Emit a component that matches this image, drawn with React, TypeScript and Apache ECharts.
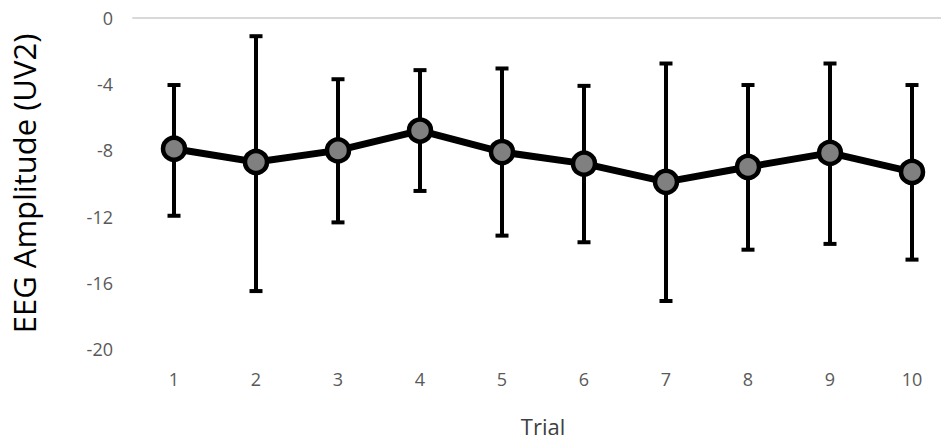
import React, { useEffect, useRef } from "react";
import * as echarts from "echarts";

const trials = ["1", "2", "3", "4", "5", "6", "7", "8", "9", "10"];
const meanValues = [-7.9, -8.7, -8.0, -6.8, -8.1, -8.8, -9.9, -9.0, -8.15, -9.3];
const upperValues = [-4.05, -1.1, -3.7, -3.15, -3.05, -4.1, -2.75, -4.05, -2.75, -4.05];
const lowerValues = [-11.95, -16.5, -12.35, -10.45, -13.15, -13.55, -17.1, -14.0, -13.65, -14.6];
const yTicks = { min: -20, max: 0, interval: 4 };

const FONT = "'Open Sans', 'Noto Sans', sans-serif";

export default function App() {
  const ref = useRef<HTMLDivElement>(null);
  useEffect(() => {
    if (!ref.current) return;
    const chart = echarts.init(ref.current, undefined, { renderer: "svg" });
    const errData = trials.map((_, i) => [i, lowerValues[i], upperValues[i]]);
    chart.setOption({
      animation: false,
      backgroundColor: "#ffffff",
      textStyle: { fontFamily: FONT },
      grid: { left: 132, right: 0, top: 18, bottom: 91, containLabel: false },
      xAxis: [
        {
          type: "category",
          data: trials,
          boundaryGap: true,
          position: "bottom",
          axisLine: { show: false },
          axisTick: { show: false },
          axisLabel: { color: "#595959", fontSize: 18, margin: 21, fontFamily: FONT },
          name: "Trial",
          nameLocation: "middle",
          nameGap: 66,
          nameTextStyle: { color: "#404040", fontSize: 22, fontFamily: FONT },
        },
        {
          type: "category",
          data: trials,
          position: "top",
          axisLine: { show: true, lineStyle: { color: "#d9d9d9", width: 2 } },
          axisTick: { show: false },
          axisLabel: { show: false },
        },
      ],
      yAxis: {
        type: "value",
        min: yTicks.min,
        max: yTicks.max,
        interval: yTicks.interval,
        axisLine: { show: false },
        axisTick: { show: false },
        splitLine: { show: false },
        axisLabel: { color: "#595959", fontSize: 18, margin: 20, fontFamily: FONT },
        name: "EEG Amplitude (UV2)",
        nameLocation: "middle",
        nameGap: 94,
        nameTextStyle: { color: "#000000", fontSize: 31, fontFamily: FONT },
      },
      series: [
        {
          type: "custom",
          xAxisIndex: 0,
          data: errData,
          z: 1,
          renderItem: (params: any, api: any) => {
            const x = api.value(0);
            const lo = api.coord([x, api.value(1)]);
            const hi = api.coord([x, api.value(2)]);
            const cap = 6.5;
            const style = { stroke: "#000000", lineWidth: 4 };
            return {
              type: "group",
              children: [
                { type: "line", shape: { x1: lo[0], y1: lo[1], x2: hi[0], y2: hi[1] }, style },
                { type: "line", shape: { x1: lo[0] - cap, y1: lo[1], x2: lo[0] + cap, y2: lo[1] }, style },
                { type: "line", shape: { x1: hi[0] - cap, y1: hi[1], x2: hi[0] + cap, y2: hi[1] }, style },
              ],
            };
          },
        },
        {
          type: "line",
          xAxisIndex: 0,
          data: meanValues,
          z: 3,
          symbol: "circle",
          symbolSize: 22,
          lineStyle: { color: "#000000", width: 7 },
          itemStyle: { color: "#808080", borderColor: "#000000", borderWidth: 4.5 },
        },
      ],
    });
    return () => chart.dispose();
  }, []);
  return (
    <div style={{ position: "fixed", left: 0, top: 0, width: 941, height: 442, overflow: "hidden", background: "#fff" }}>
      <div ref={ref} style={{ width: 953, height: 442 }} />
    </div>
  );
}
